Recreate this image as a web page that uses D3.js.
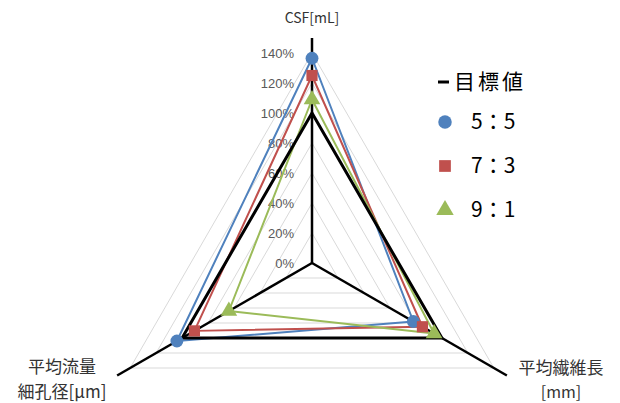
<!DOCTYPE html>
<html>
<head>
<meta charset="utf-8">
<script src="https://cdn.jsdelivr.net/npm/d3@7"></script>
<style>
  html, body { margin: 0; padding: 0; background: #fff; }
  svg { display: block; }
</style>
</head>
<body>
<svg id="chart" width="620" height="403"></svg>
<script>
// Radar categories, clockwise from the top
const categories = ["CSF[mL]", "平均繊維長", "平均流量細孔径"];
const categoryLines = [["CSF[mL]"], ["平均繊維長", "[mm]"], ["平均流量", "細孔径[μm]"]];

// Ratios relative to the target (1.0 = 100%)
const seriesNames = ["5：5", "7：3", "9：1"];
const values55 = [1.365, 0.78, 1.04];
const values73 = [1.25, 0.85, 0.905];
const values91 = [1.09, 0.94, 0.64];
const targetValues = [1.0, 1.0, 1.0];
const targetName = "目標値";

const tickValues = [0, 0.2, 0.4, 0.6, 0.8, 1.0, 1.2, 1.4];

const svg = d3.select("#chart");
const cx = 312, cy = 263;
const r = d3.scaleLinear().domain([0, 1.4]).range([0, 210]);
const angle = d3.scaleLinear().domain([0, categories.length]).range([0, 2 * Math.PI]);

const g = svg.append("g").attr("transform", `translate(${cx},${cy})`);

const pt = (i, v) => {
  const a = angle(i);
  return [r(v) * Math.sin(a), -r(v) * Math.cos(a)];
};

const radial = d3.lineRadial()
  .angle((d, i) => angle(i))
  .radius(d => r(d))
  .curve(d3.curveLinearClosed);

// grid triangles
g.append("g").selectAll("path")
  .data(tickValues.filter(t => t > 0))
  .join("path")
  .attr("d", t => radial(categories.map(() => t)))
  .attr("fill", "none")
  .attr("stroke", "#d9d9d9")
  .attr("stroke-width", 1);

// axis spokes
g.append("g").selectAll("line")
  .data(categories)
  .join("line")
  .attr("x1", 0).attr("y1", 0)
  .attr("x2", (d, i) => pt(i, 1.5)[0])
  .attr("y2", (d, i) => pt(i, 1.5)[1])
  .attr("stroke", "#000")
  .attr("stroke-width", 2.5);

// tick labels along the vertical axis
const tickFmt = d3.format(".0%");
g.append("g").selectAll("text")
  .data(tickValues)
  .join("text")
  .attr("x", -18)
  .attr("y", t => -r(t))
  .attr("dy", "0.35em")
  .attr("text-anchor", "end")
  .attr("font-family", "'Liberation Sans', Arial, sans-serif")
  .attr("font-size", 13)
  .attr("fill", "#595959")
  .text(t => tickFmt(t));

// data series
const series = [
  { name: seriesNames[0], values: values55, color: "#4f81bd", symbol: d3.symbolCircle, size: 130 },
  { name: seriesNames[1], values: values73, color: "#c0504d", symbol: d3.symbolSquare, size: 125 },
  { name: seriesNames[2], values: values91, color: "#9bbb59", symbol: d3.symbolTriangle, size: 120 }
];

g.append("g").selectAll("path")
  .data(series)
  .join("path")
  .attr("d", s => radial(s.values))
  .attr("fill", "none")
  .attr("stroke", s => s.color)
  .attr("stroke-width", 2)
  .attr("stroke-linejoin", "round");

// target line
g.append("path")
  .attr("d", radial(targetValues))
  .attr("fill", "none")
  .attr("stroke", "#000")
  .attr("stroke-width", 3)
  .attr("stroke-linejoin", "miter");

// markers
series.forEach(s => {
  g.append("g").selectAll("path")
    .data(s.values)
    .join("path")
    .attr("d", d3.symbol().type(s.symbol).size(s.size))
    .attr("transform", (v, i) => `translate(${pt(i, v)[0]},${pt(i, v)[1]})`)
    .attr("fill", s.color);
});

// category labels
const labelPos = [
  { x: 312, y: 18, anchor: "middle", size: 14 },
  { x: 561, y: 368, anchor: "middle", size: 17 },
  { x: 62, y: 367, anchor: "middle", size: 17 }
];
categoryLines.forEach((lines, i) => {
  const p = labelPos[i];
  const t = svg.append("text")
    .attr("x", p.x).attr("y", p.y)
    .attr("text-anchor", p.anchor)
    .attr("font-family", "'Noto Sans CJK JP', sans-serif")
    .attr("font-size", p.size)
    .attr("fill", "#333");
  lines.forEach((line, k) => {
    t.append("tspan")
      .attr("x", p.x)
      .attr("dy", k === 0 ? "0.35em" : "1.5em")
      .attr("font-size", (i > 0 && line.startsWith("[")) ? 16 : p.size)
      .text(line);
  });
});

// legend
const lg = svg.append("g").attr("transform", "translate(437,0)");
lg.append("line")
  .attr("x1", 1).attr("x2", 12)
  .attr("y1", 82).attr("y2", 82)
  .attr("stroke", "#000").attr("stroke-width", 3);
lg.append("text")
  .attr("x", 17).attr("y", 82).attr("dy", "0.35em")
  .attr("font-family", "'Noto Sans CJK JP', sans-serif")
  .attr("font-size", 21)
  .attr("letter-spacing", 3)
  .attr("fill", "#000")
  .text(targetName);

const legendY = [122, 166, 210];
series.forEach((s, i) => {
  lg.append("path")
    .attr("d", d3.symbol().type(s.symbol).size(s.size * 1.1))
    .attr("transform", `translate(8,${legendY[i]})`)
    .attr("fill", s.color);
  lg.append("text")
    .attr("x", 34).attr("y", legendY[i]).attr("dy", "0.35em")
    .attr("font-family", "'Noto Sans CJK JP', sans-serif")
    .attr("font-size", 21)
    .attr("fill", "#000")
    .text(s.name);
});
</script>
</body>
</html>
